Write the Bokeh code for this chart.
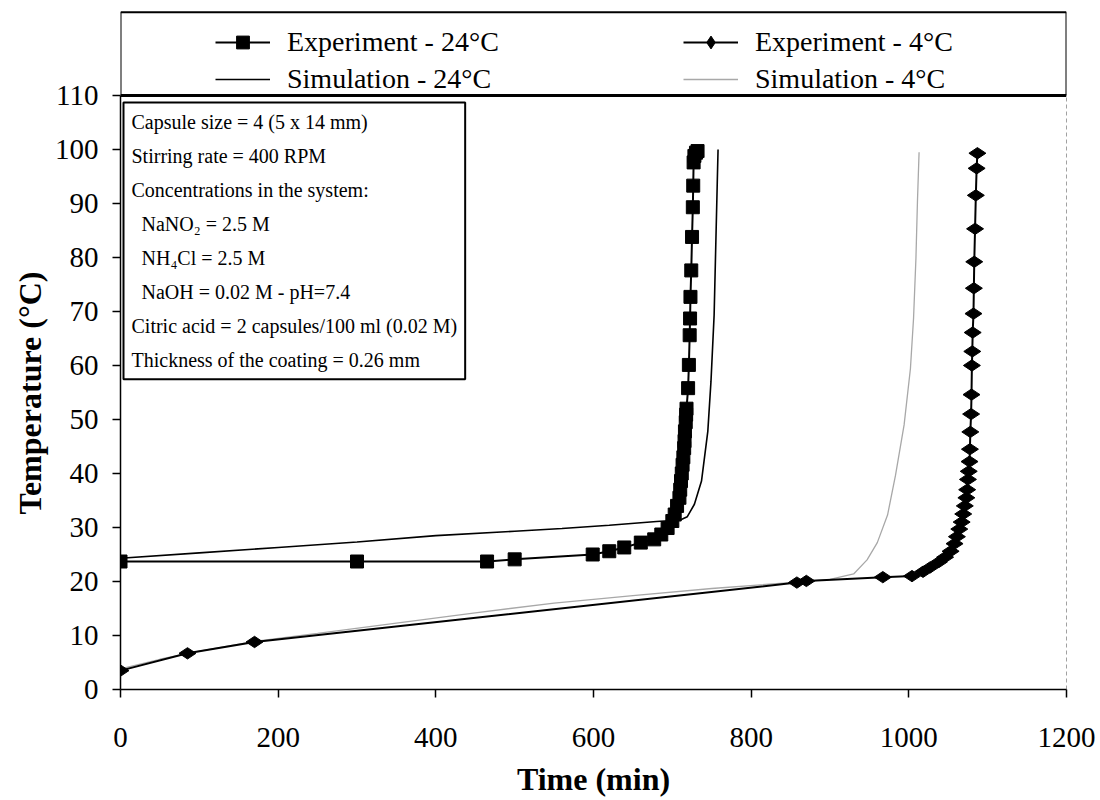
import numpy as np
from bokeh.plotting import figure
from bokeh.models import Range1d, FixedTicker, Legend, LegendItem, Label
from bokeh.embed import file_html
from bokeh.resources import INLINE

# ---------------- data ----------------
exp24_t = [0, 300, 465, 500, 599, 620, 639, 660, 677, 686, 694, 700, 703, 706, 709, 710,
           711, 712, 713, 714, 715, 715.5, 716, 717, 717.5, 718, 720, 721, 722, 722.5,
           723, 724, 725, 726, 726.5, 727, 728, 730, 732]
exp24_T = [23.7, 23.7, 23.7, 24.1, 25.0, 25.6, 26.3, 27.2, 27.8, 28.7, 29.9, 31.2, 32.4, 34.0, 35.5, 37.0,
           38.6, 40.0, 41.6, 43.0, 44.7, 46.0, 47.8, 49.5, 50.9, 52.0, 55.8, 60.1, 65.6, 68.7,
           72.7, 77.6, 83.8, 89.3, 93.3, 97.6, 98.8, 99.4, 99.7]

sim24_t = [0, 100, 200, 300, 400, 500, 560, 620, 680, 710, 719, 728, 737, 745, 749, 753, 755, 757, 758]
sim24_T = [24.3, 25.3, 26.3, 27.3, 28.5, 29.3, 29.8, 30.4, 31.1, 31.4, 32.0, 34.3, 38.6, 47.8, 57.0,
           69.3, 81.6, 93.9, 100.0]

exp4_t = [0, 85, 170, 858, 870, 967, 1004, 1018, 1027, 1038, 1046, 1053, 1058, 1061, 1064, 1067,
          1069, 1071, 1073, 1074, 1075, 1076, 1077, 1077.5, 1078, 1079, 1079.5, 1080, 1080.5,
          1081, 1082, 1082.5, 1083, 1084, 1085, 1086, 1087]
exp4_T = [3.5, 6.7, 8.8, 19.8, 20.1, 20.8, 21.0, 21.8, 22.6, 23.6, 24.5, 25.6, 27.0, 28.3, 29.7, 31.0,
          32.5, 34.0, 35.5, 37.0, 38.9, 40.4, 42.2, 44.5, 47.7, 51.0, 54.6, 60.0, 62.6,
          66.1, 69.6, 74.3, 79.2, 85.3, 91.5, 96.5, 99.3]

sim4_t = [0, 50, 100, 170, 250, 350, 450, 550, 650, 750, 850, 900, 930, 947, 960, 973, 983, 994,
          1002, 1006, 1009, 1011, 1013]
sim4_T = [3.8, 5.6, 7.1, 8.9, 10.4, 12.3, 14.2, 16.0, 17.4, 18.7, 19.8, 20.4, 21.4, 24.0, 27.2, 32.3,
          39.6, 49.0, 59.4, 68.8, 79.8, 90.7, 99.5]

series_labels = ["Experiment - 24°C", "Simulation - 24°C", "Experiment - 4°C", "Simulation - 4°C"]
x_ticks = [0, 200, 400, 600, 800, 1000, 1200]
y_ticks = [0, 10, 20, 30, 40, 50, 60, 70, 80, 90, 100, 110]
x_title = "Time (min)"
y_title = "Temperature (°C)"

ann_lines = [
    "Capsule size = 4 (5 x 14 mm)",
    "Stirring rate = 400 RPM",
    "Concentrations in the system:",
    "\u00a0\u00a0NaNO\u2082 = 2.5 M",
    "\u00a0\u00a0NH\u2084Cl = 2.5 M",
    "\u00a0\u00a0NaOH = 0.02 M - pH=7.4",
    "Citric acid = 2 capsules/100 ml (0.02 M)",
    "Thickness of the coating = 0.26 mm",
]

# ---------------- layout constants ----------------
FONT = "Liberation Serif"
X_MAX = 1200
Y_PLOT_TOP = 110
Y_BOX_TOP = 125.4
Y_FRAME_TOP = 126.1

p = figure(width=1100, height=800, output_backend="svg", toolbar_location=None,
           x_range=Range1d(0, X_MAX), y_range=Range1d(0, Y_FRAME_TOP),
           min_border_left=120, min_border_right=34, min_border_top=8, min_border_bottom=111)
p.outline_line_color = None
p.grid.visible = False
p.background_fill_color = "white"
p.border_fill_color = "white"

for ax in (p.xaxis[0], p.yaxis[0]):
    ax.axis_line_width = 1.5
    ax.axis_line_color = "black"
    ax.major_tick_in = 0
    ax.major_tick_out = 8
    ax.major_tick_line_width = 1.5
    ax.major_tick_line_color = "black"
    ax.minor_tick_line_color = None
    ax.major_label_text_font = FONT
    ax.major_label_text_font_size = "29px"
    ax.major_label_text_color = "black"
    ax.axis_label_text_font = FONT
    ax.axis_label_text_font_style = "bold"
    ax.axis_label_text_font_size = "32px"
    ax.axis_label_text_color = "black"

p.xaxis.ticker = FixedTicker(ticks=x_ticks)
p.yaxis.ticker = FixedTicker(ticks=y_ticks)
p.yaxis.bounds = (0, Y_PLOT_TOP)
p.xaxis.major_label_standoff = 30
p.yaxis.major_label_standoff = 14
p.xaxis.axis_label = x_title
p.xaxis.axis_label_standoff = 11
# trailing no-break spaces push the rotated title down so that it is centred on 0-110
p.yaxis.axis_label = y_title + "\u00a0" * 11
p.yaxis.axis_label_standoff = 4

# ---------------- series ----------------
r_sim4 = p.line(sim4_t, sim4_T, line_color="#a8a8a8", line_width=1.3)
r_sim24 = p.line(sim24_t, sim24_T, line_color="black", line_width=1.6)
r_e24l = p.line(exp24_t, exp24_T, line_color="black", line_width=2)
r_e24m = p.scatter(exp24_t, exp24_T, marker="square", size=13, fill_color="black", line_color="black")
r_e4l = p.line(exp4_t, exp4_T, line_color="black", line_width=2)
r_e4m = p.scatter(exp4_t, exp4_T, marker="diamond", angle=np.pi / 2, size=17,
                  fill_color="black", line_color="black")

# ---------------- frame / legend box lines ----------------
p.segment(x0=[0, 0, X_MAX], y0=[Y_BOX_TOP, Y_PLOT_TOP, Y_PLOT_TOP],
          x1=[X_MAX, 0, X_MAX], y1=[Y_BOX_TOP, Y_BOX_TOP, Y_BOX_TOP],
          line_color="black", line_width=2)
p.segment(x0=[0], y0=[Y_PLOT_TOP], x1=[X_MAX], y1=[Y_PLOT_TOP], line_color="black", line_width=3)
p.segment(x0=[X_MAX], y0=[0], x1=[X_MAX], y1=[Y_PLOT_TOP], line_color="#444444",
          line_width=1, line_dash="4 3")

# ---------------- legend ----------------
legend = Legend(items=[
    LegendItem(label=series_labels[0], renderers=[r_e24l, r_e24m]),
    LegendItem(label=series_labels[1], renderers=[r_sim24]),
    LegendItem(label=series_labels[2], renderers=[r_e4l, r_e4m]),
    LegendItem(label=series_labels[3], renderers=[r_sim4]),
], ncols=2, location=(95, 594))
legend.border_line_color = None
legend.background_fill_alpha = 0
legend.padding = 0
legend.margin = 0
legend.spacing = 5
legend.glyph_width = 55
legend.glyph_height = 32
legend.label_height = 32
legend.label_width = 391
legend.label_standoff = 17
legend.label_text_font = FONT
legend.label_text_font_size = "28px"
legend.label_text_color = "black"
p.add_layout(legend, "center")

# ---------------- annotation box ----------------
ann = Label(x=3, y=587, x_units="screen", y_units="screen", text="\n".join(ann_lines),
            text_align="left", text_baseline="top", text_font=FONT, text_font_size="20px",
            text_line_height=1.55, text_color="black",
            border_line_color="black", border_line_width=2,
            background_fill_color="white", padding=8)
p.add_layout(ann)

open("out.html", "w").write(file_html(p, INLINE))
